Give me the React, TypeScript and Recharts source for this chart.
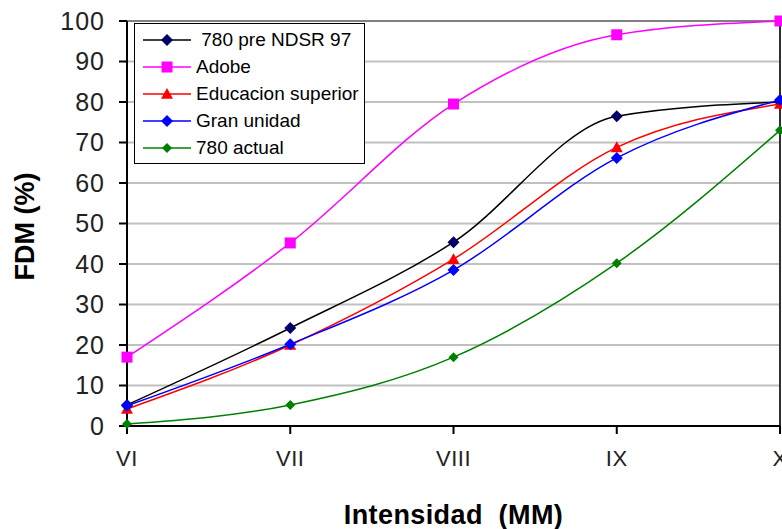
import React from "react"
import {
    LineChart,
    Line,
    XAxis,
    YAxis,
    CartesianGrid,
    Label,
    ReferenceLine
} from "recharts"

const categories = ["VI", "VII", "VIII", "IX", "X"]
const pre780 = [5.2, 24.2, 45.4, 76.5, 80]
const adobe = [17, 45.2, 79.5, 96.6, 100]
const educacion = [4.2, 20, 41.2, 68.8, 79.5]
const granUnidad = [5, 20.2, 38.5, 66.2, 80.5]
const actual780 = [0.5, 5.2, 17, 40.2, 73]
const yTicks = [0, 10, 20, 30, 40, 50, 60, 70, 80, 90, 100]

const FONT = "'Liberation Sans', Arial, sans-serif"

type Marker = "diamond" | "square" | "triangle"

const series: { key: string; name: string; stroke: string; fill: string; marker: Marker; size: number }[] = [
    { key: "pre780", name: " 780 pre NDSR 97", stroke: "#000000", fill: "#000066", marker: "diamond", size: 6 },
    { key: "adobe", name: "Adobe", stroke: "#ff00ff", fill: "#ff00ff", marker: "square", size: 5.5 },
    { key: "educacion", name: "Educacion superior", stroke: "#ff0000", fill: "#ff0000", marker: "triangle", size: 6 },
    { key: "granUnidad", name: "Gran unidad", stroke: "#0000ff", fill: "#0000ff", marker: "diamond", size: 6 },
    { key: "actual780", name: "780 actual", stroke: "#008000", fill: "#008000", marker: "diamond", size: 5 },
]

const data = categories.map((name, i) => ({
    name,
    pre780: pre780[i],
    adobe: adobe[i],
    educacion: educacion[i],
    granUnidad: granUnidad[i],
    actual780: actual780[i],
}))

function markerPath(kind: Marker, cx: number, cy: number, s: number) {
    if (kind === "square") return `M${cx - s},${cy - s}h${2 * s}v${2 * s}h${-2 * s}Z`
    if (kind === "triangle") return `M${cx},${cy - s}L${cx + s},${cy + s * 0.8}L${cx - s},${cy + s * 0.8}Z`
    return `M${cx},${cy - s}L${cx + s},${cy}L${cx},${cy + s}L${cx - s},${cy}Z`
}

function makeDot(kind: Marker, fill: string, size: number) {
    return (props: any) => {
        const { cx, cy, index } = props
        if (cx == null || cy == null) return <g key={`d-${index}`} />
        return <path key={`d-${index}`} d={markerPath(kind, cx, cy, size)} fill={fill} />
    }
}

// legend drawn as a plain box over the plot, like the Excel one
function LegendBox() {
    return (
        <div style={{
            position: "absolute", left: 134, top: 23,
            width: 231, height: 141, border: "1px solid #000", background: "#fff",
            boxSizing: "border-box", padding: "2px 0 0 8px", fontFamily: FONT, fontSize: 19, color: "#000"
        }}>
            {series.map(s => (
                <div key={s.key} style={{ display: "flex", alignItems: "center", height: 27 }}>
                    <svg width={48} height={16} style={{ marginRight: 5 }}>
                        <line x1={0} y1={8} x2={48} y2={8} stroke={s.stroke} strokeWidth={1.5} />
                        <path d={markerPath(s.marker, 24, 8, s.size)} fill={s.fill} />
                    </svg>
                    <span style={{ whiteSpace: "pre" }}>{s.name}</span>
                </div>
            ))}
        </div>
    )
}

export default function App() {
    return (
        <div style={{ position: "absolute", left: 0, top: 0, width: 782, height: 529, background: "#fff" }}>
            <LineChart width={782} height={529} data={data} margin={{ top: 21, right: 2, bottom: 0, left: 0 }}>
                <CartesianGrid vertical={false} stroke="#c0c0c0" strokeWidth={2} />
                <XAxis
                    dataKey="name"
                    height={103}
                    tickSize={8}
                    tickMargin={16}
                    axisLine={{ stroke: "#000", strokeWidth: 2 }}
                    tickLine={{ stroke: "#000", strokeWidth: 2 }}
                    tick={{ fill: "#222", fontSize: 22, fontFamily: FONT, letterSpacing: 0.5 }}
                    interval={0}
                >
                    <Label
                        value={"Intensidad\u00a0 (MM)"}
                        position="insideBottom"
                        offset={5}
                        style={{ fontSize: 27, fontWeight: "bold", fontFamily: FONT, fill: "#000", letterSpacing: 0.4 }}
                    />
                </XAxis>
                <YAxis
                    width={127}
                    domain={[0, 100]}
                    ticks={yTicks}
                    tickSize={8}
                    tickMargin={14}
                    axisLine={{ stroke: "#000", strokeWidth: 2 }}
                    tickLine={{ stroke: "#000", strokeWidth: 2 }}
                    tick={{ fill: "#222", fontSize: 25, fontFamily: FONT, letterSpacing: 1 }}
                    interval={0}
                >
                    <Label
                        content={(props: any) => {
                            const vb = props.viewBox
                            const cx = 25
                            const cy = vb.y + vb.height / 2 + 3
                            return (
                                <text x={cx} y={cy} transform={`rotate(-90 ${cx} ${cy})`} textAnchor="middle"
                                    dominantBaseline="central" fontSize={27} fontWeight="bold" fontFamily={FONT} fill="#000">
                                    FDM (%)
                                </text>
                            )
                        }}
                    />
                </YAxis>
                <ReferenceLine y={100} stroke="#808080" strokeWidth={2} />
                <ReferenceLine x="X" stroke="#303030" strokeWidth={2} />
                {series.map(s => (
                    <Line
                        key={s.key}
                        type="monotone"
                        dataKey={s.key}
                        name={s.name}
                        stroke={s.stroke}
                        strokeWidth={1.5}
                        dot={makeDot(s.marker, s.fill, s.size)}
                        activeDot={false}
                        isAnimationActive={false}
                    />
                ))}
            </LineChart>
            <LegendBox />
        </div>
    )
}
